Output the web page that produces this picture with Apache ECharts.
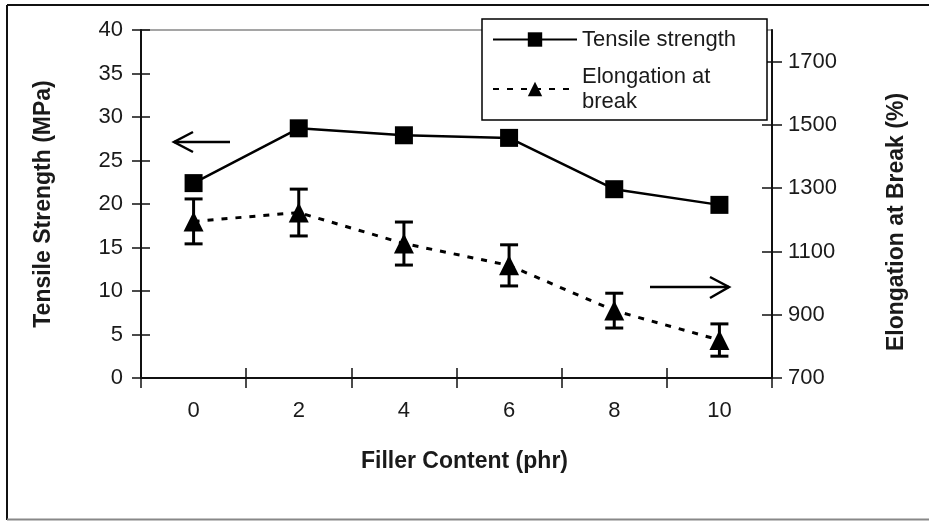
<!DOCTYPE html>
<html>
<head>
<meta charset="utf-8">
<script src="https://cdn.jsdelivr.net/npm/echarts@6/dist/echarts.min.js"></script>
<style>
  html, body { margin: 0; padding: 0; background: #fff; }
  #chart { width: 929px; height: 521px; }
</style>
</head>
<body>
<div id="chart"></div>
<script>
// filler content categories (phr)
const fillerContent = ['0', '2', '4', '6', '8', '10'];
// tensile strength, MPa (left axis)
const tensileStrength = [22.4, 28.7, 27.9, 27.6, 21.7, 19.9];
// elongation at break, % (right axis) and its error bar half-width
const elongation = [1195, 1223, 1125, 1056, 913, 820];
const elongationErr = [71, 74, 68, 65, 55, 51];
// right axis tick labels
const rightTicks = [700, 900, 1100, 1300, 1500, 1700];

const font = '"Liberation Sans", Arial, sans-serif';
const ink = '#1a1a1a';

const chart = echarts.init(document.getElementById('chart'));

// error bar data: [category index, low, high]
const errData = elongation.map((v, i) => [i, v - elongationErr[i], v + elongationErr[i]]);

const tickLabel = { color: ink, fontSize: 22, fontFamily: font };
const titleStyle = { color: ink, fontSize: 23, fontWeight: 'bold', fontFamily: font };

const option = {
  backgroundColor: '#fff',
  animation: false,
  grid: {
    left: 141, right: 157, top: 30, bottom: 143,
    show: true,
    borderColor: '#888',
    borderWidth: 1.5
  },
  legend: {
    orient: 'vertical',
    left: 482,
    top: 19,
    backgroundColor: '#fff',
    borderColor: '#000',
    borderWidth: 1.5,
    padding: [8, 10, 6, 10],
    itemGap: 12,
    itemWidth: 84,
    itemHeight: 18,
    selectedMode: false,
    textStyle: { color: ink, fontSize: 22, fontFamily: font, lineHeight: 25, width: 175 },
    formatter: name => name === 'Elongation at break' ? 'Elongation at\nbreak' : name,
    data: ['Tensile strength', 'Elongation at break']
  },
  xAxis: [
    {
      type: 'category',
      data: fillerContent,
      boundaryGap: true,
      name: 'Filler Content (phr)',
      nameLocation: 'middle',
      nameGap: 72,
      nameTextStyle: Object.assign({ padding: [0, 0, 0, 16] }, titleStyle),
      axisLine: { lineStyle: { color: '#111', width: 2 } },
      axisTick: { show: true, length: 10, lineStyle: { color: '#111', width: 1.5 } },
      axisLabel: Object.assign({ margin: 22 }, tickLabel)
    },
    {
      type: 'category',
      data: fillerContent,
      position: 'bottom',
      boundaryGap: true,
      axisLine: { show: false },
      axisTick: { show: true, inside: true, length: 10, lineStyle: { color: '#111', width: 1.5 } },
      axisLabel: { show: false }
    }
  ],
  yAxis: [
    {
      type: 'value',
      position: 'left',
      min: 0, max: 40, interval: 5,
      name: 'Tensile Strength (MPa)',
      nameLocation: 'middle',
      nameGap: 86,
      nameTextStyle: titleStyle,
      splitLine: { show: false },
      axisLine: { show: true, lineStyle: { color: '#111', width: 2 } },
      axisTick: { show: true, length: 9, lineStyle: { color: '#111', width: 1.5 } },
      axisLabel: Object.assign({ margin: 18 }, tickLabel)
    },
    {
      type: 'value',
      position: 'right',
      min: 700, max: 1800,
      name: 'Elongation at Break (%)',
      nameLocation: 'middle',
      nameGap: 113,
      nameTextStyle: Object.assign({ padding: [0, 36, 0, 0] }, titleStyle),
      splitLine: { show: false },
      axisLine: { show: true, lineStyle: { color: '#111', width: 2 } },
      axisTick: { show: true, length: 10, customValues: rightTicks, lineStyle: { color: '#111', width: 1.5 } },
      axisLabel: Object.assign({ margin: 16, customValues: rightTicks, formatter: v => String(v) }, tickLabel)
    },
    {
      type: 'value',
      position: 'left',
      min: 0, max: 40, interval: 5,
      splitLine: { show: false },
      axisLine: { show: false },
      axisTick: { show: true, inside: true, length: 9, lineStyle: { color: '#111', width: 1.5 } },
      axisLabel: { show: false }
    },
    {
      type: 'value',
      position: 'right',
      min: 700, max: 1800,
      splitLine: { show: false },
      axisLine: { show: false },
      axisTick: { show: true, inside: true, length: 10, customValues: rightTicks, lineStyle: { color: '#111', width: 1.5 } },
      axisLabel: { show: false }
    }
  ],
  series: [
    {
      name: 'Tensile strength',
      type: 'line',
      yAxisIndex: 0,
      data: tensileStrength,
      symbol: 'rect',
      symbolSize: 18,
      itemStyle: { color: '#000' },
      lineStyle: { color: '#000', width: 2.5 },
      z: 4
    },
    {
      name: 'Elongation at break',
      type: 'line',
      yAxisIndex: 1,
      data: elongation,
      symbol: 'triangle',
      symbolSize: [20, 20],
      itemStyle: { color: '#000' },
      lineStyle: { color: '#000', width: 3, type: [6, 8] },
      z: 4
    },
    {
      // error bars on elongation
      type: 'custom',
      yAxisIndex: 1,
      data: errData,
      z: 3,
      renderItem: (params, api) => {
        const x = api.value(0);
        const top = api.coord([x, api.value(2)]);
        const bottom = api.coord([x, api.value(1)]);
        const half = 9;
        const style = { stroke: '#000', lineWidth: 3 };
        return {
          type: 'group',
          children: [
            { type: 'line', shape: { x1: top[0], y1: top[1], x2: bottom[0], y2: bottom[1] }, style: style },
            { type: 'line', shape: { x1: top[0] - half, y1: top[1], x2: top[0] + half, y2: top[1] }, style: style },
            { type: 'line', shape: { x1: bottom[0] - half, y1: bottom[1], x2: bottom[0] + half, y2: bottom[1] }, style: style }
          ]
        };
      }
    }
  ],
  graphic: [
    // outer frame
    { type: 'line', shape: { x1: 7, y1: 5, x2: 929, y2: 5 }, style: { stroke: '#111', lineWidth: 2 } },
    { type: 'line', shape: { x1: 7, y1: 5, x2: 7, y2: 520 }, style: { stroke: '#111', lineWidth: 2 } },
    { type: 'line', shape: { x1: 7, y1: 519.5, x2: 929, y2: 519.5 }, style: { stroke: '#888', lineWidth: 2 } },
    // arrow pointing to left axis
    { type: 'polyline', shape: { points: [[230, 142], [174, 142]] }, style: { stroke: '#000', lineWidth: 2.5, fill: null } },
    { type: 'polyline', shape: { points: [[193, 132], [174, 142], [193, 152]] }, style: { stroke: '#000', lineWidth: 2.5, fill: null } },
    // arrow pointing to right axis
    { type: 'polyline', shape: { points: [[650, 287], [729, 287]] }, style: { stroke: '#000', lineWidth: 2.5, fill: null } },
    { type: 'polyline', shape: { points: [[710, 277], [729, 287], [710, 298]] }, style: { stroke: '#000', lineWidth: 2.5, fill: null } }
  ]
};

chart.setOption(option);
window.addEventListener('resize', () => chart.resize());
</script>
</body>
</html>
